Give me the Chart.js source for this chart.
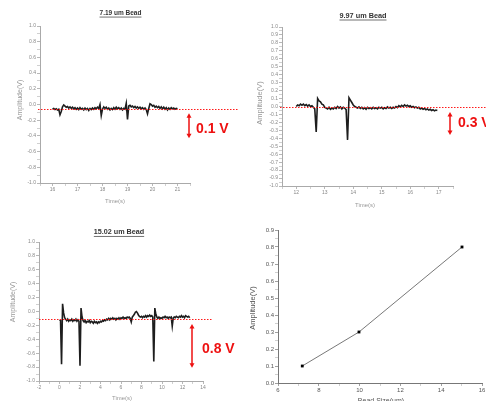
<!DOCTYPE html>
<html>
<head>
<meta charset="utf-8">
<title>Bead amplitude</title>
<script src="https://cdn.jsdelivr.net/npm/chart.js@4.4.1/dist/chart.umd.min.js"></script>
<style>
html, body { margin: 0; padding: 0; background: #fff; }
#wrap { position: relative; width: 486px; height: 401px; overflow: hidden; }
#wrap canvas { position: absolute; }
</style>
</head>
<body>
<div id="wrap">
  <canvas id="c1" width="243" height="210" style="left:0;top:0"></canvas>
  <canvas id="c2" width="243" height="210" style="left:243px;top:0"></canvas>
  <canvas id="c3" width="243" height="201" style="left:0;top:200px"></canvas>
  <canvas id="c4" width="243" height="201" style="left:243px;top:200px"></canvas>
</div>
<script>
'use strict';

// --- 7.19 um bead trace (sampled every 0.05 s from 16 s)
const T1_START = 16.0, T1_STEP = 0.05;
const amp1 = [
  -0.06, -0.05, -0.065, -0.055, -0.07, -0.06, -0.13, -0.09, -0.03, -0.005,
  -0.02, -0.035, -0.025, -0.045, -0.03, -0.05, -0.035, -0.055, -0.04, -0.06,
  -0.045, -0.065, -0.04, -0.06, -0.05, -0.07, -0.045, -0.065, -0.05, -0.075,
  -0.05, -0.065, -0.045, -0.06, -0.04, -0.055, -0.035, -0.05, 0.0, -0.14,
  -0.06, -0.03, -0.05, -0.035, -0.06, -0.045, -0.07, -0.05, -0.065, -0.04,
  -0.06, -0.035, -0.055, -0.04, -0.06, -0.045, -0.07, -0.05, -0.06, 0.015,
  -0.19, -0.02, -0.01, -0.03, -0.02, -0.04, -0.025, -0.045, -0.03, -0.05,
  -0.035, -0.055, -0.04, -0.06, -0.045, -0.065, -0.12, -0.05, 0.01, 0.0,
  -0.02, -0.01, -0.035, -0.02, -0.04, -0.025, -0.05, -0.03, -0.055, -0.035,
  -0.06, -0.04, -0.07, -0.045, -0.06, -0.04, -0.055, -0.045, -0.06, -0.05,
  -0.055
];

// --- 9.97 um bead trace (every 0.05 s from 12 s)
const T2_START = 12.0, T2_STEP = 0.05;
const amp2 = [
  0.0, 0.02, 0.01, 0.03, 0.015, 0.03, 0.01, 0.025, 0.005, 0.02,
  0.0, 0.01, -0.01, -0.03, -0.32, 0.10, 0.07, 0.06, 0.03, 0.02,
  -0.01, -0.02, -0.03, -0.01, -0.035, -0.02, -0.03, -0.01, -0.025, 0.0,
  -0.02, -0.005, -0.03, -0.01, -0.02, -0.04, -0.42, 0.11, 0.08, 0.05,
  0.02, 0.0, -0.01, -0.02, -0.005, -0.025, -0.01, -0.03, -0.015, -0.035,
  -0.01, -0.025, -0.015, -0.03, -0.01, -0.025, -0.015, -0.03, -0.01, -0.02,
  -0.01, -0.03, -0.015, -0.025, -0.005, -0.02, -0.01, -0.025, -0.01, -0.02,
  0.0, -0.015, 0.01, -0.005, 0.015, 0.0, 0.02, 0.005, 0.015, 0.0,
  0.01, -0.01, 0.0, -0.015, -0.005, -0.02, -0.01, -0.03, -0.02, -0.035,
  -0.025, -0.04, -0.03, -0.045, -0.035, -0.05, -0.04, -0.055, -0.045, -0.05
];

// --- 15.02 um bead trace (every 0.1 s from 0 s)
const T3_START = 0.0, T3_STEP = 0.1;
const amp3 = [
  -0.12, -0.13, -0.76, 0.11, -0.02, -0.09, -0.11, -0.13, -0.11, -0.14,
  -0.12, -0.13, -0.11, -0.14, -0.12, -0.13, -0.11, -0.14, -0.12, -0.14,
  -0.78, 0.05, -0.08, -0.13, -0.15, -0.13, -0.16, -0.14, -0.15, -0.13,
  -0.16, -0.14, -0.15, -0.17, -0.14, -0.16, -0.15, -0.17, -0.15, -0.16,
  -0.14, -0.15, -0.13, -0.14, -0.12, -0.13, -0.11, -0.12, -0.10, -0.12,
  -0.10, -0.11, -0.09, -0.11, -0.10, -0.12, -0.10, -0.11, -0.09, -0.11,
  -0.09, -0.10, -0.08, -0.10, -0.09, -0.10, -0.08, -0.09, -0.08, -0.10,
  -0.15, -0.08, -0.06, -0.04, -0.01, 0.0, -0.02, -0.05, -0.07, -0.08,
  -0.07, -0.09, -0.07, -0.08, -0.06, -0.08, -0.06, -0.07, -0.05, -0.07,
  -0.06, -0.08, -0.72, 0.05, -0.04, -0.08, -0.10, -0.08, -0.10, -0.09,
  -0.10, -0.08, -0.09, -0.07, -0.09, -0.08, -0.10, -0.08, -0.09, -0.08,
  -0.21, -0.09, -0.08, -0.09, -0.07, -0.08, -0.09, -0.07, -0.08, -0.06,
  -0.08, -0.07, -0.09, -0.06, -0.07, -0.08, -0.07, -0.09
];

// --- summary: bead size vs amplitude
const beadSize = [7.19, 9.97, 15.02];
const beadAmp = [0.1, 0.3, 0.8];

// baseline (dotted) and the marked drop for each trace, in volts
const baseline = [-0.06, -0.01, -0.11];
const dropLabels = ['0.1 V', '0.3 V', '0.8 V'];
const titles = ['7.19 um Bead', '9.97 um Bead', '15.02 um Bead'];

Chart.defaults.font.family = "'Liberation Sans', Arial, sans-serif";

const toPoints = (vals, start, step) => vals.map((v, i) => ({ x: start + i * step, y: v }));
const near = (v, m) => Math.abs(v / m - Math.round(v / m)) < 1e-6;
const fmt1 = v => (Math.abs(v) < 1e-9 ? 0 : v).toFixed(1);

// draws titles, dotted baseline and the red arrow
const decor = {
  id: 'decor',
  afterDraw(chart, args, o) {
    const ctx = chart.ctx;
    const ys = chart.scales.y;
    ctx.save();
    if (o.ref) {
      const py = Math.round(ys.getPixelForValue(o.ref.value)) + 0.5;
      ctx.strokeStyle = '#ff1a1a';
      ctx.lineWidth = 1.1;
      ctx.setLineDash([1.5, 1.5]);
      ctx.beginPath();
      ctx.moveTo(o.ref.x0, py);
      ctx.lineTo(o.ref.x1, py);
      ctx.stroke();
      ctx.setLineDash([]);
    }
    if (o.arrow) {
      const x = o.arrow.x;
      const y0 = ys.getPixelForValue(o.arrow.from);
      const y1 = ys.getPixelForValue(o.arrow.to);
      ctx.strokeStyle = '#ee1111';
      ctx.fillStyle = '#ee1111';
      ctx.lineWidth = 1.5;
      ctx.beginPath();
      ctx.moveTo(x, y0 + 3);
      ctx.lineTo(x, y1 - 3);
      ctx.stroke();
      ctx.beginPath();
      ctx.moveTo(x, y0); ctx.lineTo(x - 2.5, y0 + 4.5); ctx.lineTo(x + 2.5, y0 + 4.5);
      ctx.closePath(); ctx.fill();
      ctx.beginPath();
      ctx.moveTo(x, y1); ctx.lineTo(x - 2.5, y1 - 4.5); ctx.lineTo(x + 2.5, y1 - 4.5);
      ctx.closePath(); ctx.fill();
    }
    (o.texts || []).forEach(t => {
      ctx.save();
      ctx.font = (t.bold ? 'bold ' : '') + t.size + "px 'Liberation Sans', Arial, sans-serif";
      ctx.fillStyle = t.color || '#999';
      ctx.textAlign = t.align || 'center';
      ctx.textBaseline = 'middle';
      ctx.translate(t.x, t.y);
      if (t.rotate) ctx.rotate(-Math.PI / 2);
      ctx.fillText(t.text, 0, 0);
      if (t.underline) {
        const w = ctx.measureText(t.text).width;
        ctx.strokeStyle = t.color;
        ctx.lineWidth = 0.7;
        ctx.beginPath();
        ctx.moveTo(-w / 2, t.size * 0.55);
        ctx.lineTo(w / 2, t.size * 0.55);
        ctx.stroke();
      }
      ctx.restore();
    });
    ctx.restore();
  }
};

function axis(cfg) {
  return {
    type: 'linear',
    min: cfg.min,
    max: cfg.max,
    afterFit(s) {
      if (cfg.w) s.width = cfg.w;
      if (cfg.h) s.height = cfg.h;
      s.paddingLeft = 0; s.paddingRight = 0; s.paddingTop = 0; s.paddingBottom = 0;
    },
    ticks: {
      stepSize: cfg.step,
      autoSkip: false,
      maxRotation: 0,
      padding: 1,
      color: cfg.color || '#888',
      font: { size: cfg.font || 5 },
      callback: v => (near(v, cfg.every) ? cfg.fmt(v) : '')
    },
    grid: {
      display: true,
      drawOnChartArea: false,
      drawTicks: true,
      tickLength: 3,
      tickWidth: 0.7,
      tickColor: c => (near(c.tick.value, cfg.every) ? (cfg.line || '#999') : '#bbb')
    },
    border: { display: true, color: cfg.line || '#aaa', width: 1 }
  };
}

function panel(id, datasets, pad, xAxis, yAxis, decorOpts) {
  return new Chart(document.getElementById(id), {
    type: 'line',
    data: { datasets },
    options: {
      responsive: false,
      animation: false,
      events: [],
      layout: { padding: pad },
      plugins: { legend: { display: false }, tooltip: { enabled: false }, decor: decorOpts },
      scales: { x: axis(xAxis), y: axis(yAxis) }
    },
    plugins: [decor]
  });
}

const trace = pts => ({
  data: pts,
  borderColor: 'rgba(5,5,5,0.9)',
  borderWidth: 1.6,
  pointRadius: 0,
  tension: 0
});

// panel 1
panel('c1', [trace(toPoints(amp1, T1_START, T1_STEP))],
  { left: 0, top: 26, right: 53, bottom: 0 },
  { min: 15.5, max: 21.5, step: 0.5, every: 1, fmt: v => String(Math.round(v)), h: 27 },
  { min: -1, max: 1, step: 0.1, every: 0.2, fmt: fmt1, w: 40 },
  {
    ref: { value: baseline[0], x0: 38, x1: 238 },
    arrow: { x: 189, from: -0.11, to: -0.43 },
    texts: [
      { text: titles[0], x: 120.5, y: 13.5, size: 6.5, bold: true, underline: true, color: '#333' },
      { text: 'Amplitude(V)', x: 20, y: 100, size: 7, rotate: true },
      { text: 'Time(s)', x: 115, y: 201, size: 6 },
      { text: dropLabels[0], x: 196, y: 129, size: 14, bold: true, align: 'left', color: '#ee1111' }
    ]
  });

// panel 2
panel('c2', [trace(toPoints(amp2, T2_START, T2_STEP))],
  { left: 0, top: 27, right: 33, bottom: 0 },
  { min: 11.5, max: 17.5, step: 0.5, every: 1, fmt: v => String(Math.round(v)), h: 24 },
  { min: -1, max: 1, step: 0.05, every: 0.1, fmt: fmt1, w: 39 },
  {
    ref: { value: baseline[1], x0: 37, x1: 243 },
    arrow: { x: 207, from: -0.07, to: -0.36 },
    texts: [
      { text: titles[1], x: 120, y: 16, size: 7.3, bold: true, underline: true, color: '#333' },
      { text: 'Amplitude(V)', x: 17, y: 103, size: 7.5, rotate: true },
      { text: 'Time(s)', x: 122, y: 205, size: 6 },
      { text: dropLabels[1], x: 215, y: 123, size: 14, bold: true, align: 'left', color: '#ee1111' }
    ]
  });

// panel 3
panel('c3', [trace(toPoints(amp3, T3_START, T3_STEP))],
  { left: 0, top: 42, right: 40, bottom: 0 },
  { min: -2, max: 14, step: 1, every: 2, fmt: v => String(Math.round(v)), h: 20 },
  { min: -1, max: 1, step: 0.1, every: 0.2, fmt: fmt1, w: 39 },
  {
    ref: { value: baseline[2], x0: 39, x1: 213 },
    arrow: { x: 192, from: -0.18, to: -0.81 },
    texts: [
      { text: titles[2], x: 119, y: 32.5, size: 7.2, bold: true, underline: true, color: '#333' },
      { text: 'Amplitude(V)', x: 13, y: 102, size: 7, rotate: true },
      { text: 'Time(s)', x: 122, y: 198, size: 6 },
      { text: dropLabels[2], x: 202, y: 149, size: 14, bold: true, align: 'left', color: '#ee1111' }
    ]
  });

// panel 4
panel('c4', [{
    data: beadSize.map((s, i) => ({ x: s, y: beadAmp[i] })),
    borderColor: '#555',
    borderWidth: 0.8,
    pointStyle: 'rect',
    pointRadius: 2,
    pointBackgroundColor: '#000',
    pointBorderColor: '#000',
    pointBorderWidth: 0,
    tension: 0
  }],
  { left: 0, top: 30, right: 3, bottom: 0 },
  { min: 6, max: 16, step: 1, every: 2, fmt: v => String(Math.round(v)), h: 18, font: 6, color: '#555', line: '#777' },
  { min: 0, max: 0.9, step: 0.05, every: 0.1, fmt: fmt1, w: 35, font: 6, color: '#555', line: '#777' },
  {
    texts: [
      { text: 'Amplitude(V)', x: 10, y: 108, size: 7.5, rotate: true, color: '#555' },
      { text: 'Bead Size(um)', x: 138, y: 201.5, size: 7, color: '#555' }
    ]
  });
</script>
</body>
</html>
